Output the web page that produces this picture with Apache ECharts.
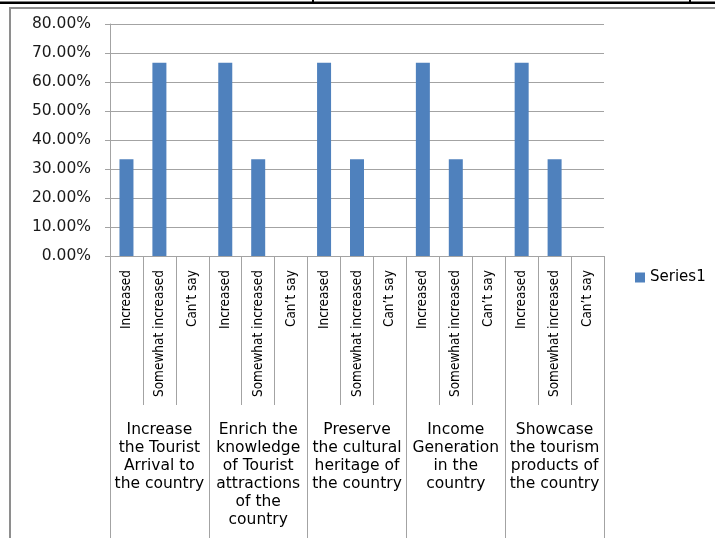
<!DOCTYPE html>
<html>
<head>
<meta charset="utf-8">
<script src="https://cdn.jsdelivr.net/npm/echarts@6/dist/echarts.min.js"></script>
<style>
  html, body { margin: 0; padding: 0; background: #fff; }
  #chart { width: 715px; height: 538px; }
</style>
</head>
<body>
<div id="chart"></div>
<script>
// Survey response categories (inner axis level) and groups (outer axis level)
const responses = ['Increased', 'Somewhat increased', 'Can\u2019t say'];
const groups = [
  'Increase\nthe Tourist\nArrival to\nthe country',
  'Enrich the\nknowledge\nof Tourist\nattractions\nof the\ncountry',
  'Preserve\nthe cultural\nheritage of\nthe country',
  'Income\nGeneration\nin the\ncountry',
  'Showcase\nthe tourism\nproducts of\nthe country'
];

// Share of respondents (%) per group, in the order of `responses`
const touristArrival = [33.33, 66.67, 0];
const enrichKnowledge = [66.67, 33.33, 0];
const preserveHeritage = [66.67, 33.33, 0];
const incomeGeneration = [66.67, 33.33, 0];
const showcaseProducts = [66.67, 33.33, 0];

// Y-axis tick range (%)
const yMin = 0;
const yMax = 80;
const yStep = 10;

const seriesName = 'Series1';

const groupValues = [touristArrival, enrichKnowledge, preserveHeritage, incomeGeneration, showcaseProducts];
const innerLabels = [];
const values = [];
groupValues.forEach(function (g) {
  g.forEach(function (v, i) {
    innerLabels.push(responses[i]);
    values.push(v);
  });
});

const gray = '#A3A3A3';
const chart = echarts.init(document.getElementById('chart'));
chart.setOption({
  animation: false,
  backgroundColor: '#ffffff',
  graphic: [
    { type: 'rect', silent: true, shape: { x: 0, y: 1.5, width: 715, height: 2.5 }, style: { fill: '#000' } },
    { type: 'rect', silent: true, shape: { x: 312, y: 0, width: 2, height: 3 }, style: { fill: '#000' } },
    { type: 'rect', silent: true, shape: { x: 689, y: 0, width: 2, height: 3 }, style: { fill: '#000' } },
    { type: 'rect', silent: true, shape: { x: 10, y: 8, width: 720, height: 560 },
      style: { fill: 'none', stroke: '#8E8E8E', lineWidth: 2 } }
  ],
  legend: {
    data: [seriesName],
    left: 630,
    top: 265,
    icon: 'rect',
    itemWidth: 10,
    itemHeight: 10,
    itemGap: 5,
    textStyle: { fontFamily: 'DejaVu Sans', fontSize: 15, color: '#000' }
  },
  grid: { left: 110, right: 111, top: 24, bottom: 282, containLabel: false },
  xAxis: [
    {
      type: 'category',
      data: innerLabels,
      position: 'bottom',
      axisLine: { show: true, lineStyle: { color: gray, width: 1 } },
      axisTick: { show: true, interval: 0, length: 149, lineStyle: { color: gray } },
      axisLabel: {
        interval: 0,
        rotate: 90,
        margin: 14,
        fontFamily: '"DejaVu Sans Condensed", sans-serif',
        fontSize: 13.5,
        color: '#000'
      },
      splitLine: { show: false }
    },
    {
      type: 'category',
      data: groups,
      position: 'bottom',
      axisLine: { show: false },
      axisTick: { show: true, interval: 0, length: 290, lineStyle: { color: gray } },
      axisLabel: {
        interval: 0,
        margin: 165,
        lineHeight: 18,
        align: 'center',
        fontFamily: 'DejaVu Sans',
        fontSize: 15.5,
        color: '#000'
      },
      splitLine: { show: false }
    }
  ],
  yAxis: {
    type: 'value',
    min: yMin,
    max: yMax,
    interval: yStep,
    axisLine: { show: true, lineStyle: { color: gray } },
    axisTick: { show: true, length: 5, lineStyle: { color: gray } },
    axisLabel: {
      margin: 19,
      fontFamily: 'DejaVu Sans',
      fontSize: 15.5,
      color: '#1a1a1a',
      formatter: function (v) { return v.toFixed(2) + '%'; }
    },
    splitLine: { show: true, lineStyle: { color: gray, width: 1 } }
  },
  series: [
    {
      name: seriesName,
      type: 'bar',
      xAxisIndex: 0,
      data: values,
      barWidth: 14,
      itemStyle: { color: '#4F81BD' }
    }
  ]
});
</script>
</body>
</html>
